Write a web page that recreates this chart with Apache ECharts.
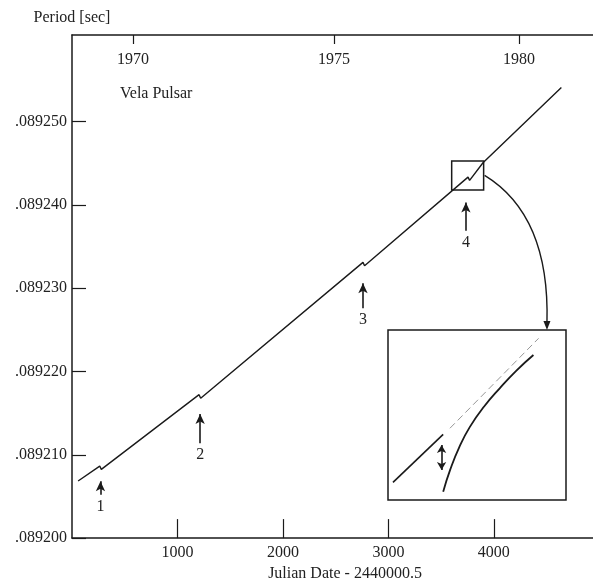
<!DOCTYPE html>
<html>
<head>
<meta charset="utf-8">
<script src="https://cdn.jsdelivr.net/npm/echarts@6/dist/echarts.min.js"></script>
<style>
html,body{margin:0;padding:0;background:#fff;}
#c{width:593px;height:587px;}
</style>
</head>
<body>
<div id="c"></div>
<script>
// ---- data ----
const yearLabels = ['1970', '1975', '1980'];
const yearTickJD = [579, 2484, 4238];
const xTickValues = [1000, 2000, 3000, 4000];
const yTickValues = [89200, 89210, 89220, 89230, 89240, 89250];
// Julian Date - 2440000.5 and period (microseconds)
const julianDay = [58, 263, 278, 1205, 1220, 2759, 2774, 3755, 3770, 3897, 4640];
const periodUs  = [89206.85, 89208.65, 89208.25, 89217.22, 89216.8, 89233.1, 89232.7, 89243.34, 89242.95, 89245.06, 89254.1];
// glitches
const glitchLabels = ['1', '2', '3', '4'];
const glitchJD = [270, 1215, 2759, 3735];
const arrowTip = [89206.84, 89214.9, 89230.6, 89240.3];
const arrowTail = [89205.2, 89211.4, 89227.6, 89236.9];
// zoom box around glitch 4
const zoomBoxJD = [3600, 3903];
const zoomBoxP = [89241.8, 89245.28];
// inset (magnified, arbitrary units 0-100)
const insetPreX = [2.8, 31.0];
const insetPreY = [10.4, 38.6];
const insetExtX = [34.8, 84.6];
const insetExtY = [42.2, 95.1];
const insetPostX = [31.0, 35.0, 40.0, 46.0, 54.0, 63.0, 72.0, 81.7];
const insetPostY = [4.9, 18.0, 31.0, 43.0, 55.0, 66.0, 76.0, 85.3];
const insetJumpX = 30.1;
const insetJumpY = [17.6, 32.4];

const zip = (a, b) => a.map((v, i) => [v, b[i]]);
const FONT = 'Liberation Serif';
const TXT = '#222';
const LINE = '#1a1a1a';

const chart = echarts.init(document.getElementById('c'), null, {renderer: 'canvas'});

const arrowData = glitchJD.map((jd, i) => [
  {coord: [jd, arrowTail[i]], name: glitchLabels[i]},
  {coord: [jd, arrowTip[i]]}
]);

const option = {
  animation: false,
  backgroundColor: '#fff',
  title: {
    text: 'Vela Pulsar', left: 115, top: 81,
    textStyle: {fontFamily: FONT, fontSize: 16, fontWeight: 'normal', color: TXT}
  },
  grid: [
    {left: 72, right: 0, top: 35, bottom: 46},
    {left: 388, top: 330, width: 178, height: 170, show: true,
     borderColor: LINE, borderWidth: 1.5, backgroundColor: '#fff', z: 5}
  ],
  xAxis: [
    {
      type: 'value', gridIndex: 0, min: 0, max: 4940, position: 'bottom',
      name: 'Julian Date - 2440000.5', nameLocation: 'middle', nameGap: 26,
      nameTextStyle: {fontFamily: FONT, fontSize: 16, color: TXT, padding: [0, 0, 0, 25]},
      axisLine: {show: true, onZero: false, lineStyle: {color: LINE, width: 1.5}},
      axisTick: {show: true, inside: true, length: 19, customValues: xTickValues, lineStyle: {color: LINE, width: 1.2}},
      axisLabel: {customValues: xTickValues, margin: 7, fontFamily: FONT, fontSize: 16, color: TXT,
                  formatter: v => String(v)},
      splitLine: {show: false}
    },
    {
      type: 'value', gridIndex: 0, min: 0, max: 4940, position: 'top',
      axisLine: {show: true, onZero: false, lineStyle: {color: LINE, width: 1.5}},
      axisTick: {show: true, inside: true, length: 9, customValues: yearTickJD, lineStyle: {color: LINE, width: 1.2}},
      axisLabel: {inside: true, customValues: yearTickJD, margin: 17, fontFamily: FONT, fontSize: 16, color: TXT,
                  formatter: v => { const i = yearTickJD.indexOf(v); return i >= 0 ? yearLabels[i] : ''; }},
      splitLine: {show: false}
    },
    {type: 'value', gridIndex: 1, min: 0, max: 100, show: false}
  ],
  yAxis: [
    {
      type: 'value', gridIndex: 0, min: 89200, max: 89260.4,
      name: 'Period [sec]', nameLocation: 'end', nameGap: 9,
      nameTextStyle: {fontFamily: FONT, fontSize: 16, color: TXT, align: 'center'},
      axisLine: {show: true, onZero: false, lineStyle: {color: LINE, width: 1.5}},
      axisTick: {show: true, inside: true, length: 14, customValues: yTickValues, lineStyle: {color: LINE, width: 1.2}},
      axisLabel: {customValues: yTickValues, margin: 5, fontFamily: FONT, fontSize: 16, color: TXT,
                  formatter: v => '.0' + v},
      splitLine: {show: false}
    },
    {type: 'value', gridIndex: 1, min: 0, max: 100, show: false}
  ],
  series: [
    {
      type: 'line', xAxisIndex: 0, yAxisIndex: 0,
      data: zip(julianDay, periodUs), showSymbol: false, symbol: 'none',
      lineStyle: {color: LINE, width: 1.4},
      markLine: {
        silent: true, symbol: ['none', 'arrow'], symbolSize: [7, 10],
        lineStyle: {color: LINE, width: 1.6, type: 'solid'},
        label: {show: true, position: 'start', distance: 4, formatter: p => p.name,
                fontFamily: FONT, fontSize: 16, color: TXT},
        data: arrowData
      },
      markArea: {
        silent: true,
        itemStyle: {color: 'rgba(0,0,0,0)', borderColor: LINE, borderWidth: 1.5},
        data: [[{coord: [zoomBoxJD[0], zoomBoxP[0]]}, {coord: [zoomBoxJD[1], zoomBoxP[1]]}]]
      }
    },
    {
      type: 'line', xAxisIndex: 2, yAxisIndex: 1, z: 6,
      data: zip(insetPreX, insetPreY), showSymbol: false, symbol: 'none',
      lineStyle: {color: LINE, width: 1.6},
      markLine: {
        silent: true, symbol: ['arrow', 'arrow'], symbolSize: [7, 8],
        lineStyle: {color: LINE, width: 1.6, type: 'solid'},
        label: {show: false},
        data: [[{coord: [insetJumpX, insetJumpY[0]]}, {coord: [insetJumpX, insetJumpY[1]]}]]
      }
    },
    {
      type: 'line', xAxisIndex: 2, yAxisIndex: 1, z: 6,
      data: zip(insetExtX, insetExtY), showSymbol: false, symbol: 'none',
      lineStyle: {color: '#8a8a8a', width: 0.9, type: [7, 4]}
    },
    {
      type: 'line', xAxisIndex: 2, yAxisIndex: 1, z: 6, smooth: 0.5,
      data: zip(insetPostX, insetPostY), showSymbol: false, symbol: 'none',
      lineStyle: {color: LINE, width: 1.8}
    }
  ]
};
chart.setOption(option);

// curved arrow from zoom box to inset
const start = chart.convertToPixel({xAxisIndex: 0, yAxisIndex: 0},
  [zoomBoxJD[1], (zoomBoxP[0] + zoomBoxP[1]) / 2]);
const end = chart.convertToPixel({xAxisIndex: 2, yAxisIndex: 1}, [89.3, 100]);
chart.setOption({
  graphic: [
    {type: 'bezierCurve', z: 10,
     shape: {x1: start[0] + 1, y1: start[1], cpx1: end[0] + 3, cpy1: start[1] + 40, x2: end[0], y2: end[1] - 7},
     style: {stroke: LINE, lineWidth: 1.4, fill: null}},
    {type: 'polygon', z: 10,
     shape: {points: [[end[0] - 3.5, end[1] - 9], [end[0] + 3.5, end[1] - 9], [end[0], end[1]]]},
     style: {fill: LINE}}
  ]
});
</script>
</body>
</html>
